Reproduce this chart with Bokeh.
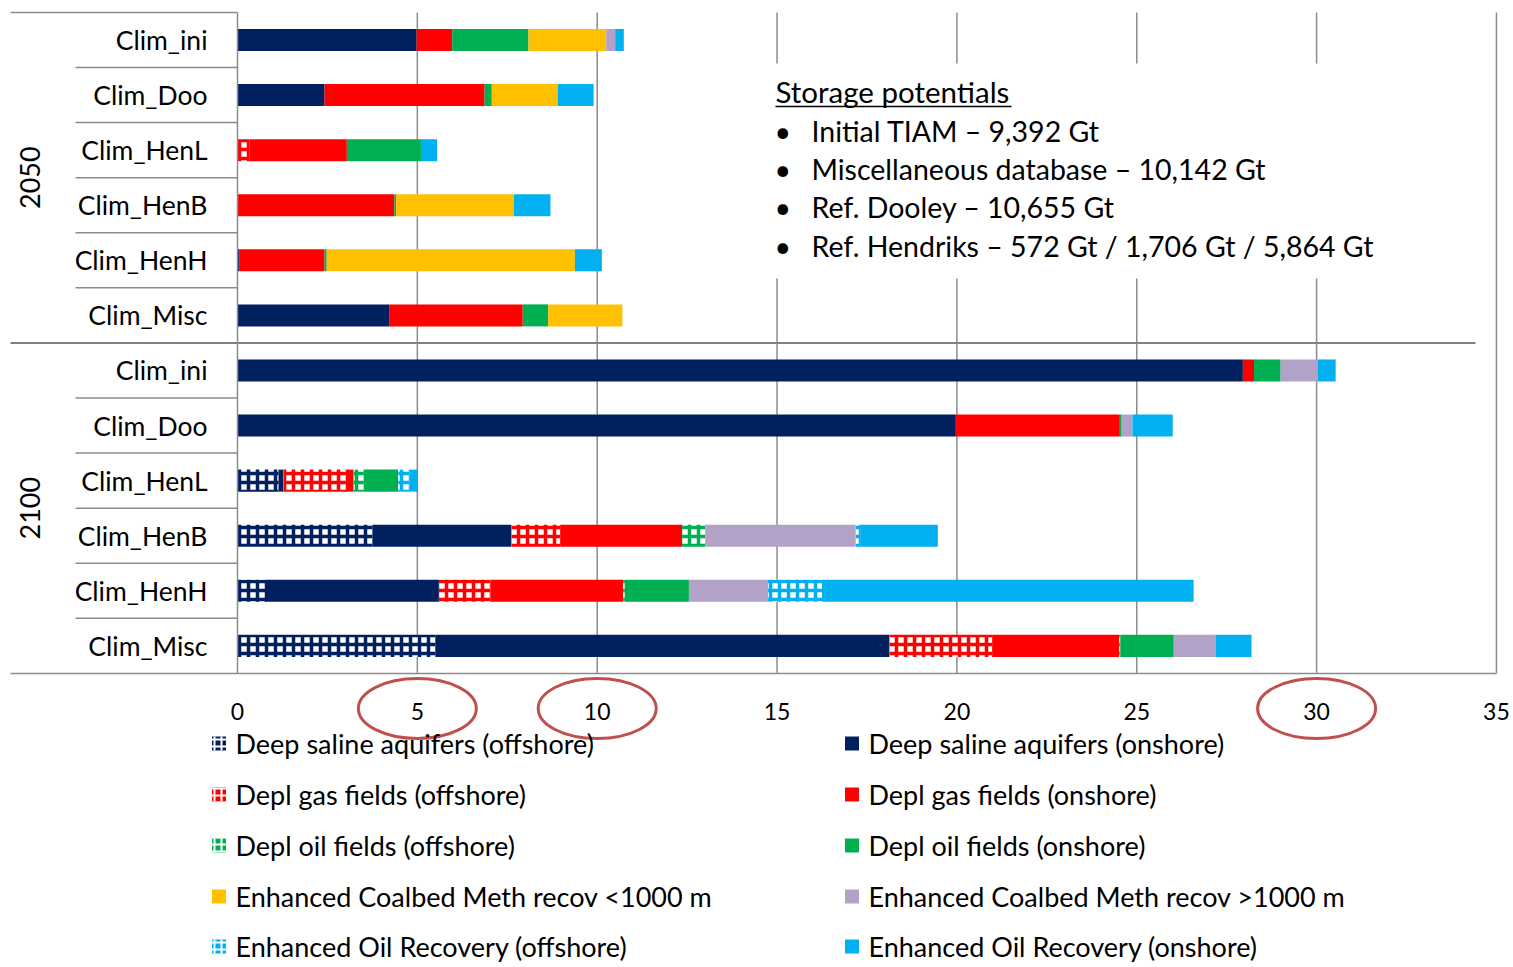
import math
from bokeh.plotting import figure
from bokeh.models import Range1d, LinearAxis, FixedTicker
from bokeh.embed import file_html
from bokeh.resources import INLINE
from bokeh.core.properties import value

# ---------------- data ----------------
years = ["2050", "2100"]
scenarios = ["Clim_ini", "Clim_Doo", "Clim_HenL", "Clim_HenB", "Clim_HenH", "Clim_Misc"]
row_labels = scenarios + scenarios  # rows top to bottom: 2050 block, then 2100 block

series_names = [
    "Deep saline aquifers (offshore)", "Deep saline aquifers (onshore)",
    "Depl gas fields (offshore)", "Depl gas fields (onshore)",
    "Depl oil fields (offshore)", "Depl oil fields (onshore)",
    "Enhanced Coalbed Meth recov <1000 m", "Enhanced Coalbed Meth recov >1000 m",
    "Enhanced Oil Recovery (offshore)", "Enhanced Oil Recovery (onshore)",
]
series_colors = ["#002060", "#002060", "#FF0000", "#FF0000", "#00B050", "#00B050",
                 "#FFC000", "#B3A2C7", "#00B0F0", "#00B0F0"]
series_offshore = [True, False, True, False, True, False, False, False, True, False]

#            2050: ini   Doo   HenL  HenB  HenH  Misc | 2100: ini  Doo   HenL  HenB  HenH  Misc
dsa_off  = [0.00, 0.00, 0.00, 0.00, 0.06, 0.00,   0.00,  0.00, 1.14, 3.75, 0.82, 5.50]
dsa_on   = [4.98, 2.42, 0.00, 0.00, 0.00, 4.23,  27.95, 19.97, 0.14, 3.87, 4.78, 12.63]
gas_off  = [0.00, 0.00, 0.34, 0.00, 0.00, 0.00,   0.00,  0.00, 1.82, 1.35, 1.43, 2.85]
gas_on   = [0.99, 4.45, 2.70, 4.36, 2.36, 3.70,   0.31,  4.56, 0.13, 3.39, 3.69, 3.53]
oil_off  = [0.00, 0.00, 0.00, 0.00, 0.00, 0.00,   0.00,  0.00, 0.28, 0.64, 0.05, 0.04]
oil_on   = [2.12, 0.20, 2.06, 0.05, 0.06, 0.71,   0.74,  0.05, 0.96, 0.00, 1.78, 1.48]
ecbm_lo  = [2.16, 1.84, 0.00, 3.27, 6.90, 2.06,   0.00,  0.00, 0.00, 0.00, 0.00, 0.00]
ecbm_hi  = [0.25, 0.00, 0.00, 0.00, 0.00, 0.00,   1.03,  0.30, 0.00, 4.19, 2.20, 1.16]
eor_off  = [0.00, 0.00, 0.00, 0.00, 0.00, 0.00,   0.00,  0.00, 0.32, 0.14, 1.50, 0.00]
eor_on   = [0.24, 0.99, 0.45, 1.02, 0.75, 0.00,   0.50,  1.12, 0.22, 2.14, 10.33, 1.00]
series_values = [dsa_off, dsa_on, gas_off, gas_on, oil_off, oil_on,
                 ecbm_lo, ecbm_hi, eor_off, eor_on]

x_ticks = [0, 5, 10, 15, 20, 25, 30, 35]
circled_ticks = [5, 10, 30]

box_title = "Storage potentials"
box_lines = [
    "Initial TIAM \u2013 9,392 Gt",
    "Miscellaneous database  \u2013 10,142 Gt",
    "Ref. Dooley \u2013 10,655 Gt",
    "Ref. Hendriks \u2013 572 Gt / 1,706 Gt / 5,864 Gt",
]

# ---------------- layout helpers (page pixels -> data) ----------------
W, H, M = 1513, 967, 0
PX0, PXU = 237.0, 35.97     # page x of value 0, pixels per unit
PY0, PYU = 39.5, 55.08      # page y of row 0 centre, pixels per row


def X(px):
    return (px - PX0) / PXU


def Y(py):
    return (py - PY0) / PYU


FONT = value("Lato")
GRID = "#8c8c8c"
n_rows = len(row_labels)
rows = list(range(n_rows))

p = figure(width=W, height=H, x_range=Range1d(X(M), X(M + W)),
           y_range=Range1d(Y(M + H), Y(M)),
           output_backend="svg", toolbar_location=None,
           x_axis_location=None, y_axis_location=None, min_border=0)
p.outline_line_color = None
p.background_fill_color = "white"
p.border_fill_color = "white"
p.grid.grid_line_color = None

# vertical gridlines
p.segment(x0=x_ticks[1:], x1=x_ticks[1:], y0=[-0.5] * (len(x_ticks) - 1),
          y1=[n_rows - 0.5] * (len(x_ticks) - 1), line_color=GRID, line_width=1.5)

# white text box covering gridlines
p.quad(left=[X(765)], right=[X(1392)], top=[Y(63)], bottom=[Y(278)],
       fill_color="white", line_color=None)

# category separators (left)
sep_inner = [r + 0.5 for r in rows if r not in (5, 11)]
p.segment(x0=[X(75)] * len(sep_inner), x1=[0] * len(sep_inner), y0=sep_inner, y1=sep_inner,
          line_color=GRID, line_width=1.5)
p.segment(x0=[X(10)], x1=[0], y0=[-0.5], y1=[-0.5], line_color=GRID, line_width=1.5)
p.segment(x0=[X(10)], x1=[X(1475)], y0=[5.5], y1=[5.5], line_color="#808080", line_width=2)

# stacked bars
left = [0.0] * n_rows
for vals, col, off in zip(series_values, series_colors, series_offshore):
    right = [l + v for l, v in zip(left, vals)]
    ys = [r for r, v in zip(rows, vals) if v > 0]
    ls = [l for l, v in zip(left, vals) if v > 0]
    rs = [r_ for r_, v in zip(right, vals) if v > 0]
    if ys:
        if off:
            p.hbar(y=ys, left=ls, right=rs, height=0.4, fill_color="white", line_color=None,
                   hatch_pattern="cross", hatch_color=col, hatch_scale=9, hatch_weight=3.5)
        else:
            p.hbar(y=ys, left=ls, right=rs, height=0.4, fill_color=col, line_color=None)
    left = right

# x axis
xaxis = LinearAxis(ticker=FixedTicker(ticks=x_ticks), fixed_location=n_rows - 0.5,
                   bounds=(X(10), x_ticks[-1]))
xaxis.axis_line_color = GRID
xaxis.axis_line_width = 1.5
xaxis.major_tick_line_color = None
xaxis.minor_tick_line_color = None
xaxis.major_label_text_font = "Lato"
xaxis.major_label_text_font_size = "23px"
xaxis.major_label_text_color = "black"
xaxis.major_label_standoff = 24
p.add_layout(xaxis, "below")

# y axis (scenario labels)
yaxis = LinearAxis(ticker=FixedTicker(ticks=rows), fixed_location=0,
                   bounds=(-0.5, n_rows - 0.5),
                   major_label_overrides={r: lab for r, lab in zip(rows, row_labels)})
yaxis.axis_line_color = GRID
yaxis.axis_line_width = 1.5
yaxis.major_tick_line_color = None
yaxis.minor_tick_line_color = None
yaxis.major_label_text_font = "Lato"
yaxis.major_label_text_font_size = "26.5px"
yaxis.major_label_text_color = "black"
yaxis.major_label_standoff = 24
p.add_layout(yaxis, "left")

# group (year) labels
p.text(x=[X(29)] * 2, y=[2.5, 8.5], text=years, angle=math.pi / 2, text_font=FONT,
       text_font_size="27px", text_align="center", text_baseline="middle", text_color="black")

# circles around tick labels
p.ellipse(x=circled_ticks, y=[Y(708)] * len(circled_ticks), width=118, height=60,
          width_units="screen", height_units="screen", fill_color=None,
          line_color="#C0504D", line_width=3)

# text box
p.text(x=[X(775)], y=[Y(91)], text=[box_title], text_font=FONT, text_font_size="29.5px",
       text_baseline="middle", text_color="black")
p.segment(x0=[X(775)], x1=[X(1011)], y0=[Y(106)], y1=[Y(106)], line_color="black", line_width=1.5)
by = [Y(130), Y(168), Y(206), Y(245)]
p.text(x=[X(774)] * 4, y=by, text=["\u2022"] * 4, text_font=FONT, text_font_size="28.5px",
       text_baseline="middle", text_color="black")
p.text(x=[X(811)] * 4, y=by, text=box_lines, text_font=FONT, text_font_size="28.5px",
       text_baseline="middle", text_color="black")

# legend (manual, two columns, row-major)
leg_x_sw = [218.5, 851.5]
leg_x_tx = [235, 868]
leg_y = [743, 794, 845, 896, 946]
for k, (name, col, off) in enumerate(zip(series_names, series_colors, series_offshore)):
    r, c = divmod(k, 2)
    if off:
        p.rect(x=[X(leg_x_sw[c])], y=[Y(leg_y[r])], width=14, height=14, width_units="screen",
               height_units="screen", fill_color=col, line_color=None,
               hatch_pattern="cross", hatch_color="white", hatch_scale=7, hatch_weight=2)
    else:
        p.rect(x=[X(leg_x_sw[c])], y=[Y(leg_y[r])], width=14, height=14, width_units="screen",
               height_units="screen", fill_color=col, line_color=None)
    p.text(x=[X(leg_x_tx[c])], y=[Y(leg_y[r])], text=[name], text_font=FONT,
           text_font_size="27px", text_baseline="middle", text_color="black")

open("out.html", "w").write(file_html(p, INLINE))
